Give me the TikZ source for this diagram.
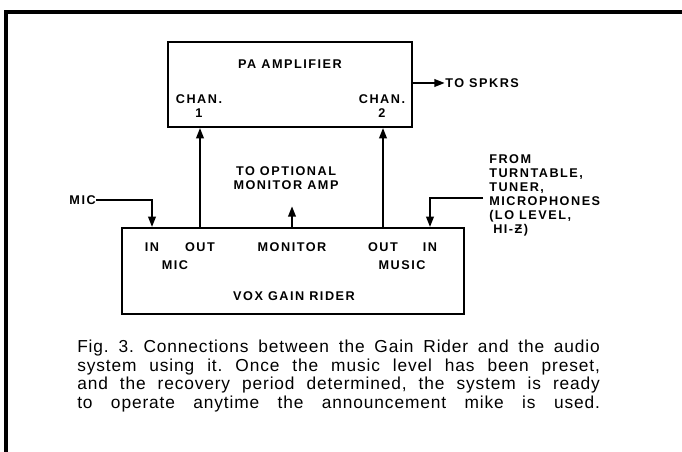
\documentclass[tikz,border=0pt]{standalone}
\usepackage{fontspec}
\setmainfont{Liberation Sans}
\usetikzlibrary{arrows.meta,positioning}
\newcommand{\capline}[1]{\makebox[392pt][s]{#1}}
\frenchspacing

\begin{document}
\begin{tikzpicture}[x=0.75pt,y=-0.75pt,
  blk/.style={draw,line width=1.1pt,inner sep=0pt},
  lab/.style={font=\fontsize{9.5}{10.5}\selectfont\bfseries\addfontfeatures{LetterSpace=12},inner sep=0pt,align=center},
  captxt/.style={font=\fontsize{13}{13.9}\selectfont\addfontfeatures{LetterSpace=5},inner sep=0pt,align=left},
  f/.style={-{Triangle[length=8pt,width=5.5pt]},line width=1.9pt},
  ln/.style={line width=1.9pt}]
\useasboundingbox (0,0) rectangle (682,452);
% outer frame
\draw[line width=2.4pt] (6,452) -- (6,12) -- (682,12);
% the two units
\node[blk,minimum width=183pt,minimum height=63.75pt] (pa) at (290,84.5) {};
\node[blk,minimum width=256.5pt,minimum height=64.5pt] (vox) at (293,271) {};
% labels of the PA amplifier
\node[lab] (ttl) at (290,64) {PA AMPLIFIER};
\node[lab] (ch1) at (199,106) {CHAN.\\1};
\node[lab] (ch2) at (382,106) {CHAN.\\2};
\node[lab,anchor=west] (spk) at (445,83) {TO SPKRS};
% labels of the gain rider
\node[lab] (micin) at (152,247) {IN};
\node[lab] (micout) at (200,247) {OUT};
\node[lab] (monout) at (292,247) {MONITOR};
\node[lab] (musout) at (383,247) {OUT};
\node[lab] (musin) at (430,247) {IN};
\node[lab] (micl) at (175,265) {MIC};
\node[lab] (musl) at (402,265) {MUSIC};
\node[lab] (voxl) at (294,296) {VOX GAIN RIDER};
% outside sources and loads
\node[lab] (mon) at (286,178) {TO OPTIONAL\\MONITOR AMP};
\node[lab,anchor=east] (mic) at (96,200) {MIC};
\node[lab,anchor=north west,align=left] (src) at (489,154) {FROM\\TURNTABLE,\\TUNER,\\MICROPHONES\\(LO LEVEL,\\\hspace{3pt}HI-Ƶ)};
\coordinate (srcin) at (483,198);
\coordinate (montip) at (292,206);
% connections
\draw[f] (pa.east |- spk) -- (spk.west);
\draw[f] (vox.north -| micout) -- (pa.south -| micout);
\draw[f] (vox.north -| musout) -- (pa.south -| musout);
\draw[f] (vox.north -| monout) -- (montip);
\draw[f] (mic.east) -| (vox.north -| micin);
\draw[f] (srcin) -| (vox.north -| musin);
% caption
\node[captxt,anchor=north west] (caption) at (77,340) {%
  \capline{Fig. 3. Connections between the Gain Rider and the audio}\\
  \capline{system using it. Once the music level has been preset,}\\
  \capline{and the recovery period determined, the system is ready}\\
  \capline{to operate anytime the announcement mike is used.}};
\end{tikzpicture}
\end{document}
